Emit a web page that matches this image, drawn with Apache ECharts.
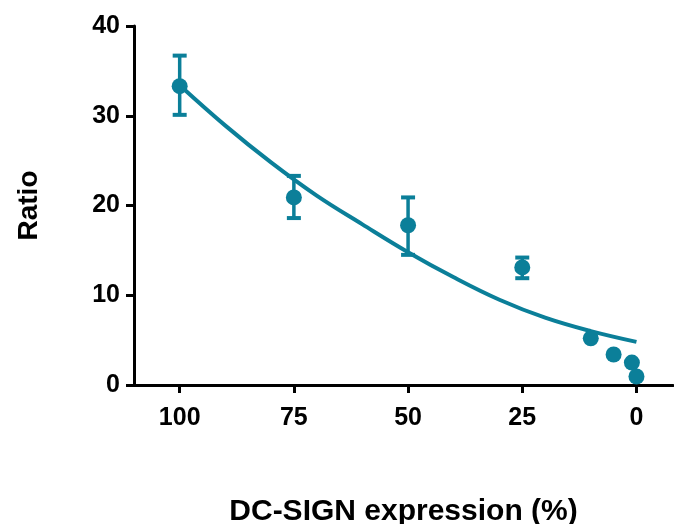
<!DOCTYPE html>
<html>
<head>
<meta charset="utf-8">
<style>
  html, body { margin: 0; padding: 0; background: #fff; }
  #chart { width: 674px; height: 524px; }
</style>
<script src="https://cdn.jsdelivr.net/npm/echarts@6/dist/echarts.min.js"></script>
</head>
<body>
<div id="chart"></div>
<script>
// measured points (DC-SIGN %, ratio)
const expression = [100, 75, 50, 25, 10, 5, 1, 0]
const ratio = [33.3, 20.9, 17.8, 13.1, 5.2, 3.4, 2.5, 0.95]

// error bars only on the first four
const errX = [100, 75, 50, 25]
const errLow = [30.1, 18.6, 14.5, 11.9]
const errHigh = [36.7, 23.3, 20.9, 14.2]

// fitted curve, every 10 %
const fitX = [100, 90, 80, 70, 60, 50, 40, 30, 20, 10, 0]
const fitY = [33.4, 28.9, 24.8, 21.1, 17.9, 14.8, 12.0, 9.5, 7.5, 6.0, 4.8]

const xTicks = [0, 25, 50, 75, 100]

const color = '#0b7f99'
const font = "'Liberation Sans', Arial, sans-serif"

const chart = echarts.init(document.getElementById('chart'))

chart.setOption({
  animation: false,
  grid: { left: 134, right: 1, top: 26, bottom: 139, outerBoundsMode: 'none', containLabel: false },
  xAxis: {
    type: 'value',
    inverse: true,
    min: -8,
    max: 110,
    name: 'DC-SIGN expression (%)',
    nameLocation: 'middle',
    nameGap: 112,
    nameTextStyle: { fontFamily: font, fontWeight: 'bold', fontSize: 30, color: '#000' },
    axisLine: { lineStyle: { color: '#000', width: 3 } },
    axisTick: { customValues: xTicks, length: 8, lineStyle: { color: '#000', width: 3 } },
    axisLabel: {
      customValues: xTicks,
      margin: 21,
      fontFamily: font, fontWeight: 'bold', fontSize: 25, color: '#000'
    },
    splitLine: { show: false }
  },
  yAxis: {
    type: 'value',
    min: 0,
    max: 40,
    interval: 10,
    name: 'Ratio',
    nameLocation: 'middle',
    nameGap: 91,
    nameTextStyle: { fontFamily: font, fontWeight: 'bold', fontSize: 28, color: '#000' },
    axisLine: { show: true, onZero: false, lineStyle: { color: '#000', width: 3 } },
    axisTick: { show: true, length: 8, lineStyle: { color: '#000', width: 3 } },
    axisLabel: { margin: 14, fontFamily: font, fontWeight: 'bold', fontSize: 25, color: '#000' },
    splitLine: { show: false }
  },
  series: [
    {
      type: 'custom',
      data: errX.map((x, i) => [x, errLow[i], errHigh[i]]),
      renderItem: (params, api) => {
        const x = api.value(0)
        const top = api.coord([x, api.value(2)])
        const bot = api.coord([x, api.value(1)])
        const hw = 7
        const stem = { stroke: color, lineWidth: 3.5 }
        const cap = { stroke: color, lineWidth: 4 }
        return {
          type: 'group',
          children: [
            { type: 'line', shape: { x1: top[0], y1: top[1], x2: bot[0], y2: bot[1] }, style: stem },
            { type: 'line', shape: { x1: top[0] - hw, y1: top[1], x2: top[0] + hw, y2: top[1] }, style: cap },
            { type: 'line', shape: { x1: bot[0] - hw, y1: bot[1], x2: bot[0] + hw, y2: bot[1] }, style: cap }
          ]
        }
      },
      z: 2
    },
    {
      type: 'line',
      data: fitX.map((x, i) => [x, fitY[i]]),
      smooth: 0.4,
      showSymbol: false,
      lineStyle: { color: color, width: 4 },
      z: 3
    },
    {
      type: 'scatter',
      data: expression.map((x, i) => [x, ratio[i]]),
      symbol: 'circle',
      symbolSize: 16,
      itemStyle: { color: color, opacity: 1 },
      z: 4
    }
  ]
})
</script>
</body>
</html>
